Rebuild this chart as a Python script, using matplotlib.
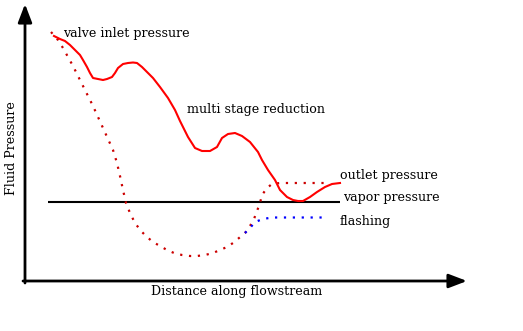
import matplotlib
matplotlib.use("Agg")
import matplotlib.pyplot as plt

# Pixel-space coordinates (x right, y down)
stage_x = [54, 60, 65, 70, 75, 80, 83, 87, 90, 93, 98, 103, 107, 112, 115, 118, 123, 128, 133, 137, 142, 147, 153, 160, 168, 175, 180, 188, 195, 202, 210, 217, 222, 228, 235, 242, 250, 258, 262, 268, 275, 280, 287, 293, 298, 303, 310, 317, 325, 332, 340]
stage_y = [36, 39, 41, 45, 50, 55, 60, 67, 73, 78, 79, 80, 79, 77, 73, 68, 64, 63, 62.5, 63, 67, 72, 78, 87, 98, 110, 121, 137, 148, 151, 151, 147, 138, 134, 133, 136, 142, 152, 160, 170, 180, 190, 197, 200, 201, 201, 197, 192, 187, 184, 183]

vena_x = [51, 58, 63, 68, 73, 78, 83, 88, 93, 98, 103, 108, 113, 117, 120, 123, 126, 130, 135, 141, 147, 153, 160, 167, 174, 182, 190, 197, 205, 213, 220, 227, 233, 239, 245, 250, 254, 257, 260, 262, 267, 272, 280, 290, 300, 310, 320, 328]
vena_y = [32, 40, 48, 57, 66, 76, 86, 96, 106, 117, 128, 139, 150, 163, 176, 190, 203, 213, 223, 231, 237, 242, 246, 250, 253, 255, 256, 256, 255, 253, 250, 247, 243, 238, 233, 226, 219, 211, 203, 195, 188, 184, 183, 183, 183, 183, 183, 183]

flash_x = [245, 250, 255, 263, 272, 280, 290, 300, 310, 320, 328]
flash_y = [233, 228, 222, 219, 217.5, 217.5, 217.5, 217.5, 217.5, 217.5, 217.5]

vapor_x = [48, 340]
vapor_y = [202, 202]

labels = ["valve inlet pressure", "multi stage reduction", "outlet pressure", "vapor pressure", "flashing"]
label_x = [63, 187, 340, 343, 340]
label_y = [33, 110, 175, 198, 222]

xlabel = "Distance along flowstream"
ylabel = "Fluid Pressure"

fig = plt.figure(figsize=(5.23, 3.31), dpi=100)
ax = fig.add_axes([0, 0, 1, 1])
ax.set_xlim(0, 523)
ax.set_ylim(331, 0)
ax.axis("off")

font = dict(family="DejaVu Serif", fontsize=9.1, color="black")

# axes arrows
ax.annotate("", xy=(25, 4), xytext=(25, 283),
            arrowprops=dict(arrowstyle="-|>,head_length=1.1,head_width=0.42",
                            lw=2, color="black", mutation_scale=10, shrinkA=0, shrinkB=0))
ax.annotate("", xy=(467, 281), xytext=(23, 281),
            arrowprops=dict(arrowstyle="-|>,head_length=1.1,head_width=0.42",
                            lw=2, color="black", mutation_scale=10, shrinkA=0, shrinkB=0))

ax.plot(vapor_x, vapor_y, color="black", lw=1.5, solid_capstyle="butt")
ax.plot(vena_x, vena_y, color="#cc0000", lw=1.6, linestyle=(0, (1, 3)))
ax.plot(flash_x, flash_y, color="#0000ff", lw=1.6, linestyle=(0, (1, 3)))
ax.plot(stage_x, stage_y, color="#ff0000", lw=1.5, solid_joinstyle="round")

for t, x, y in zip(labels, label_x, label_y):
    ax.text(x, y, t, ha="left", va="center", **font)

ax.text(237, 292, xlabel, ha="center", va="center", **font)
ax.text(12, 148, ylabel, ha="center", va="center", rotation=90, **font)

fig.savefig("out.png", dpi=100)
